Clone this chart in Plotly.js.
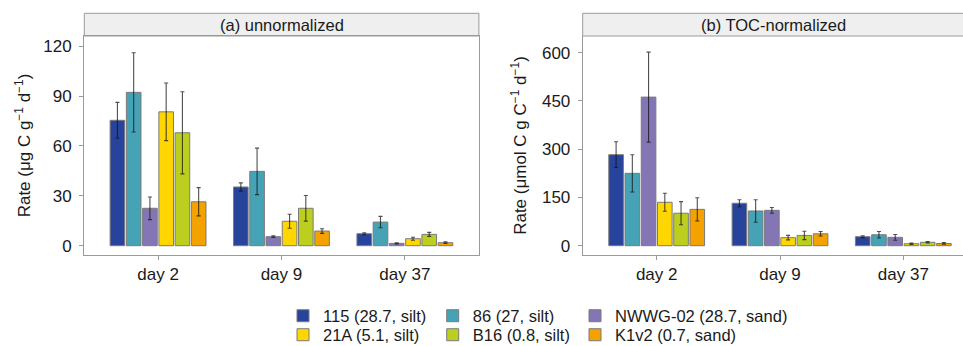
<!DOCTYPE html>
<html>
<head>
<meta charset="utf-8">
<script src="https://cdn.plot.ly/plotly-3.0.1.min.js"></script>
<style>html,body{margin:0;padding:0;background:#fff;}#chart{width:963px;height:346px;}</style>
</head>
<body>
<div id="chart"></div>
<script>
// ---- data ----
const days = ['day 2', 'day 9', 'day 37'];
const sites = ['115 (28.7, silt)', '86 (27, silt)', 'NWWG-02 (28.7, sand)', '21A (5.1, silt)', 'B16 (0.8, silt)', 'K1v2 (0.7, sand)'];
const siteColors = ['#27439b', '#45a3b5', '#8476b4', '#ffd600', '#bccf1f', '#f3a200'];

// (a) unnormalized, µg C g-1 d-1
const rawMean = [
  [75.4, 35.3, 7.2],
  [92.2, 44.7, 14.2],
  [22.5, 5.4, 1.4],
  [80.5, 14.7, 4.2],
  [67.9, 22.5, 6.8],
  [26.4, 8.8, 1.8]
];
const rawErr = [
  [10.8, 2.5, 0.6],
  [23.8, 14.0, 3.4],
  [6.8, 0.5, 0.3],
  [17.3, 4.2, 0.9],
  [24.7, 7.7, 1.2],
  [8.5, 1.4, 0.5]
];
// (b) TOC-normalized, µmol C g C-1 d-1
const tocMean = [
  [283, 132, 28],
  [225, 108, 34],
  [462, 110, 26],
  [135, 25, 6.2],
  [101, 32, 10.6],
  [113, 37, 7]
];
const tocErr = [
  [40, 11, 3],
  [58, 35, 10],
  [140, 9, 9],
  [28, 7, 2],
  [36, 13, 2],
  [36, 7, 2.5]
];

const FONT = '"Liberation Sans", Arial, Helvetica, sans-serif';
const TXT = '#1a1a1a';
const GRID = '#9a9a9a';
const W = 963, H = 346;
const ML = 84, MT = 13, MB = 91, MR = 0;
const PW = W - ML - MR, PH = H - MT - MB;

const legendIds = ['legend', 'legend2', 'legend3', 'legend4', 'legend5', 'legend6'];

const traces = [];
sites.forEach((s, i) => {
  traces.push({
    type: 'bar', name: s, x: days, y: rawMean[i],
    xaxis: 'x', yaxis: 'y',
    marker: {color: siteColors[i], line: {color: '#7a7a7a', width: 1}},
    error_y: {type: 'data', array: rawErr[i], visible: true, color: 'rgba(20,20,20,0.75)', thickness: 1.1, width: 2},
    legend: legendIds[i], showlegend: true, hoverinfo: 'skip'
  });
});
sites.forEach((s, i) => {
  traces.push({
    type: 'bar', name: s, x: days, y: tocMean[i],
    xaxis: 'x2', yaxis: 'y2',
    marker: {color: siteColors[i], line: {color: '#7a7a7a', width: 1}},
    error_y: {type: 'data', array: tocErr[i], visible: true, color: 'rgba(20,20,20,0.75)', thickness: 1.1, width: 2},
    legend: legendIds[i], showlegend: false, hoverinfo: 'skip'
  });
});

// pixel -> paper (relative to plot area)
const px = v => (v - ML) / PW;
const py = v => (H - MB - v) / PH;

const yDom = [0, py(36)];

const axisCommon = {
  showline: true, linecolor: GRID, linewidth: 1,
  ticks: 'outside', ticklen: 4, tickcolor: GRID, tickwidth: 1,
  showgrid: false, zeroline: false,
  tickfont: {family: FONT, size: 17, color: TXT}
};

const legendCommon = {
  orientation: 'v', xanchor: 'left', yanchor: 'middle',
  font: {family: FONT, size: 16.5, color: TXT},
  bgcolor: 'rgba(0,0,0,0)', tracegroupgap: 0, itemclick: false, itemdoubleclick: false
};
const colX = [283, 432.7, 575];
const rowY = [316, 335];

const layout = {
  width: W, height: H,
  margin: {l: ML, r: MR, t: MT, b: MB, pad: 0, autoexpand: false},
  paper_bgcolor: '#fff', plot_bgcolor: '#fff',
  font: {family: FONT, color: TXT},
  barmode: 'group', bargap: 0.21, bargroupgap: 0.1,
  xaxis: Object.assign({}, axisCommon, {domain: [0, px(478.9)], range: [-0.6, 2.6], anchor: 'y', mirror: true, type: 'category'}),
  yaxis: Object.assign({}, axisCommon, {domain: yDom, range: [-5.6, 126.1], anchor: 'x', mirror: true, tickvals: [0, 30, 60, 90, 120], ticklabelstandoff: 4,
    title: {text: 'Rate (μg C g<sup>−1</sup> d<sup>−1</sup>)', font: {family: FONT, size: 17, color: TXT}, standoff: 8}}),
  xaxis2: Object.assign({}, axisCommon, {domain: [px(582.7), 1], range: [-0.6, 2.484], anchor: 'y2', mirror: false, type: 'category'}),
  yaxis2: Object.assign({}, axisCommon, {domain: yDom, range: [-28.9, 652], anchor: 'x2', tickvals: [0, 150, 300, 450, 600], ticklabelstandoff: 4,
    title: {text: 'Rate (μmol C g C<sup>−1</sup> d<sup>−1</sup>)', font: {family: FONT, size: 17, color: TXT}, standoff: 10}}),
  shapes: [
    {type: 'rect', xref: 'paper', yref: 'paper', x0: px(84.3), x1: px(478.9), y0: py(36), y1: py(13.3), fillcolor: '#efefef', line: {color: GRID, width: 1}, layer: 'below'},
    {type: 'rect', xref: 'paper', yref: 'paper', x0: px(582.7), x1: px(975), y0: py(36), y1: py(13.3), fillcolor: '#efefef', line: {color: GRID, width: 1}, layer: 'below'}
  ],
  annotations: [
    {xref: 'paper', yref: 'paper', x: px((84.3 + 478.9) / 2), y: py(24.6), text: '(a) unnormalized', showarrow: false, xanchor: 'center', yanchor: 'middle', font: {family: FONT, size: 16.5, color: TXT}},
    {xref: 'paper', yref: 'paper', x: px(773), y: py(24.6), text: '(b) TOC-normalized', showarrow: false, xanchor: 'center', yanchor: 'middle', font: {family: FONT, size: 16.5, color: TXT}}
  ]
};
legendIds.forEach((id, i) => {
  layout[id] = Object.assign({}, legendCommon, {x: px(colX[i % 3]), y: py(rowY[Math.floor(i / 3)])});
});

Plotly.newPlot('chart', traces, layout, {staticPlot: true, displayModeBar: false});
</script>
</body>
</html>
